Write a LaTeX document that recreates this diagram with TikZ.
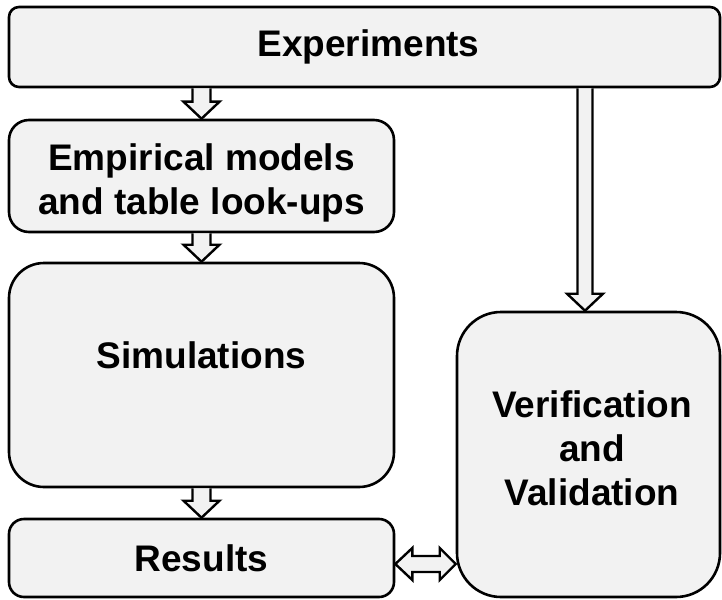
\documentclass[tikz,border=0pt]{standalone}
\usepackage{fontspec}
\setmainfont{Liberation Sans}
\usetikzlibrary{calc}
\definecolor{boxfill}{HTML}{F2F2F2}
\tikzset{
  box/.style={draw=black, line width=2.6pt, fill=boxfill, inner sep=0pt, align=center,
    font=\fontsize{37}{44}\selectfont\bfseries},
  barrow/.style={draw=black, line width=2.4pt, fill=boxfill, line join=miter},
  lbl/.style={font=\fontsize{37}{44}\selectfont\bfseries, align=center, inner sep=0pt}
}
\begin{document}
\begin{tikzpicture}[x=1pt,y=1pt]
\useasboundingbox (0,0) rectangle (722,-599);
\node[box, rounded corners=10pt, minimum width=711pt, minimum height=80pt] (exp) at (364.5,-47) {};
\node[lbl] at ($(exp.center)+(4pt,0)$) {Experiments};
\node[box, rounded corners=20pt, minimum width=385pt, minimum height=112pt] (emp) at (201.5,-176) {};
\node[lbl] at (201.5,-183) {Empirical models\\and table look-ups};
\node[box, rounded corners=35pt, minimum width=385pt, minimum height=224pt] (sim) at (201.5,-375) {};
\node[lbl] at (201.5,-355) {Simulations};
\node[box, rounded corners=15pt, minimum width=385pt, minimum height=78pt] (res) at (201.5,-558) {};
\node[lbl] at (res.center) {Results};
\node[box, rounded corners=44pt, minimum width=263pt, minimum height=285pt] (vv) at (588.5,-454.5) {};
\node[lbl] at (592,-448) {Verification\\and\\Validation};
% down block arrows
\draw[barrow] let \p1=(emp.north), \p2=(exp.south) in
  (\x1-9pt,\y2) -- (\x1-9pt,\y1+17pt) -- (\x1-18pt,\y1+17pt) -- (\x1,\y1) -- (\x1+18pt,\y1+17pt) -- (\x1+9pt,\y1+17pt) -- (\x1+9pt,\y2);
\draw[barrow] let \p1=(sim.north), \p2=(emp.south) in
  (\x1-9pt,\y2) -- (\x1-9pt,\y1+17pt) -- (\x1-18pt,\y1+17pt) -- (\x1,\y1) -- (\x1+18pt,\y1+17pt) -- (\x1+9pt,\y1+17pt) -- (\x1+9pt,\y2);
\draw[barrow] let \p1=(res.north), \p2=(sim.south) in
  (\x1-9pt,\y2) -- (\x1-9pt,\y1+17pt) -- (\x1-18pt,\y1+17pt) -- (\x1,\y1) -- (\x1+18pt,\y1+17pt) -- (\x1+9pt,\y1+17pt) -- (\x1+9pt,\y2);
\coordinate (vvtop) at ($(vv.north)+(-3.5pt,0)$);
\draw[barrow] let \p1=(vvtop), \p2=(exp.south) in
  (\x1-7.5pt,\y2) -- (\x1-7.5pt,\y1+17pt) -- (\x1-18pt,\y1+17pt) -- (\x1,\y1) -- (\x1+18pt,\y1+17pt) -- (\x1+7.5pt,\y1+17pt) -- (\x1+7.5pt,\y2);
% double block arrow
\coordinate (dl) at ($(res.east)+(0,-6pt)$);
\coordinate (dr) at (vv.west |- dl);
\draw[barrow] let \p1=(dl), \p2=(dr) in
  (\x1,\y1) -- (\x1+17pt,\y1+16pt) -- (\x1+17pt,\y1+8pt) -- (\x2-16pt,\y1+8pt) -- (\x2-16pt,\y1+16pt) -- (\x2,\y1)
  -- (\x2-16pt,\y1-16pt) -- (\x2-16pt,\y1-8pt) -- (\x1+17pt,\y1-8pt) -- (\x1+17pt,\y1-16pt) -- cycle;
\end{tikzpicture}
\end{document}
